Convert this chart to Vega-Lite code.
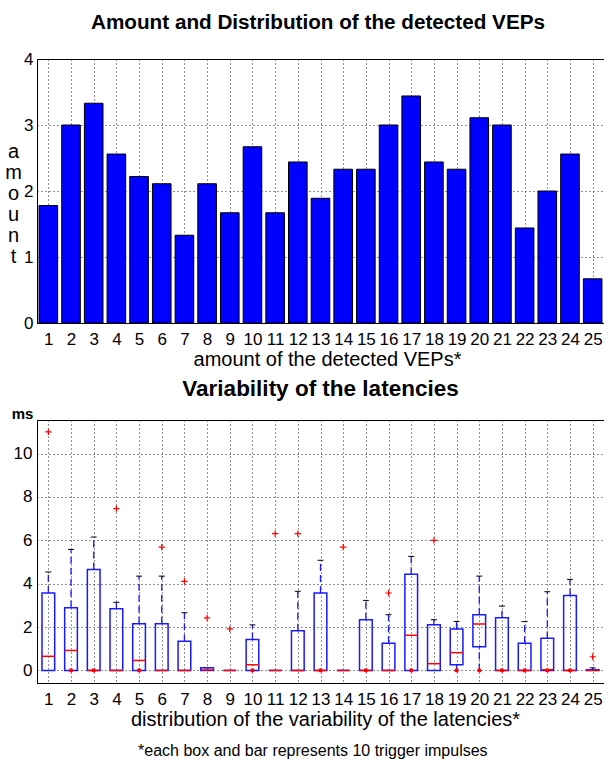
{
  "$schema": "https://vega.github.io/schema/vega-lite/v6.json",
  "padding": {"left": 4, "top": 11, "right": 0, "bottom": 2},
  "bounds": "flush",
  "spacing": 97,
  "config": {
    "font": "Liberation Sans",
    "view": {"stroke": "#000", "strokeWidth": 1},
    "scale": {"continuousPadding": 0},
    "axis": {
      "labelFont": "Liberation Sans", "labelFontSize": 17, "labelColor": "#000",
      "titleFont": "Liberation Sans", "titleFontSize": 20, "titleFontWeight": "normal", "titleColor": "#000",
      "domainColor": "#000", "gridColor": "#222", "gridDash": [1, 3], "gridOpacity": 1,
      "ticks": false, "tickSize": 0, "labelOverlap": false, "labelFlush": false
    },
    "title": {"font": "Liberation Sans", "fontSize": 21, "fontWeight": "bold", "color": "#000"}
  },
  "title": {"text": "*each box and bar represents 10 trigger impulses", "orient": "bottom", "fontSize": 16, "fontWeight": "normal", "offset": 13, "anchor": "middle", "dx": 8.5},
  "datasets": {
    "amounts": [
      {"n": 1, "amount": 1.78}, {"n": 2, "amount": 3.0}, {"n": 3, "amount": 3.33}, {"n": 4, "amount": 2.56}, {"n": 5, "amount": 2.22},
      {"n": 6, "amount": 2.11}, {"n": 7, "amount": 1.33}, {"n": 8, "amount": 2.11}, {"n": 9, "amount": 1.67}, {"n": 10, "amount": 2.67},
      {"n": 11, "amount": 1.67}, {"n": 12, "amount": 2.44}, {"n": 13, "amount": 1.89}, {"n": 14, "amount": 2.33}, {"n": 15, "amount": 2.33},
      {"n": 16, "amount": 3.0}, {"n": 17, "amount": 3.44}, {"n": 18, "amount": 2.44}, {"n": 19, "amount": 2.33}, {"n": 20, "amount": 3.11},
      {"n": 21, "amount": 3.0}, {"n": 22, "amount": 1.44}, {"n": 23, "amount": 2.0}, {"n": 24, "amount": 2.56}, {"n": 25, "amount": 0.67}
    ],
    "boxes": [
      {"n": 1, "q1": 0, "med": 0.65, "q3": 3.57, "wlo": 0, "whi": 4.54},
      {"n": 2, "q1": 0, "med": 0.92, "q3": 2.89, "wlo": 0, "whi": 5.58},
      {"n": 3, "q1": 0, "med": 0, "q3": 4.65, "wlo": 0, "whi": 6.15},
      {"n": 4, "q1": 0, "med": 0, "q3": 2.85, "wlo": 0, "whi": 3.14},
      {"n": 5, "q1": 0, "med": 0.46, "q3": 2.15, "wlo": 0, "whi": 4.35},
      {"n": 6, "q1": 0, "med": 0, "q3": 2.15, "wlo": 0, "whi": 4.35},
      {"n": 7, "q1": 0, "med": 0, "q3": 1.35, "wlo": 0, "whi": 2.66},
      {"n": 8, "q1": 0, "med": 0.02, "q3": 0.12, "wlo": 0, "whi": 0.12},
      {"n": 9, "q1": 0, "med": 0, "q3": 0, "wlo": 0, "whi": 0},
      {"n": 10, "q1": 0, "med": 0.26, "q3": 1.43, "wlo": 0, "whi": 2.1},
      {"n": 11, "q1": 0, "med": 0, "q3": 0, "wlo": 0, "whi": 0},
      {"n": 12, "q1": 0, "med": 0, "q3": 1.83, "wlo": 0, "whi": 3.65},
      {"n": 13, "q1": 0, "med": 0, "q3": 3.57, "wlo": 0, "whi": 5.08},
      {"n": 14, "q1": 0, "med": 0, "q3": 0, "wlo": 0, "whi": 0},
      {"n": 15, "q1": 0, "med": 0, "q3": 2.34, "wlo": 0, "whi": 3.23},
      {"n": 16, "q1": 0, "med": 0, "q3": 1.25, "wlo": 0, "whi": 2.57},
      {"n": 17, "q1": 0, "med": 1.62, "q3": 4.43, "wlo": 0, "whi": 5.26},
      {"n": 18, "q1": 0, "med": 0.31, "q3": 2.11, "wlo": 0, "whi": 2.34},
      {"n": 19, "q1": 0.26, "med": 0.82, "q3": 1.91, "wlo": 0, "whi": 2.26},
      {"n": 20, "q1": 1.09, "med": 2.14, "q3": 2.57, "wlo": 0, "whi": 4.35},
      {"n": 21, "q1": 0, "med": 0, "q3": 2.43, "wlo": 0, "whi": 2.97},
      {"n": 22, "q1": 0, "med": 0, "q3": 1.25, "wlo": 0, "whi": 2.25},
      {"n": 23, "q1": 0, "med": 0.03, "q3": 1.48, "wlo": 0, "whi": 3.63},
      {"n": 24, "q1": 0, "med": 0, "q3": 3.46, "wlo": 0, "whi": 4.2},
      {"n": 25, "q1": 0, "med": 0, "q3": 0.03, "wlo": 0, "whi": 0.12}
    ],
    "outliers": [
      {"n": 1, "v": 11.0}, {"n": 4, "v": 7.46}, {"n": 6, "v": 5.69}, {"n": 7, "v": 4.11}, {"n": 8, "v": 2.42},
      {"n": 9, "v": 1.92}, {"n": 11, "v": 6.31}, {"n": 12, "v": 6.31}, {"n": 14, "v": 5.69}, {"n": 16, "v": 3.57},
      {"n": 18, "v": 6.0}, {"n": 25, "v": 0.63}
    ],
    "zeros": [
      {"n": 2, "v": 0}, {"n": 3, "v": 0}, {"n": 5, "v": 0}, {"n": 10, "v": 0}, {"n": 13, "v": 0}, {"n": 15, "v": 0},
      {"n": 17, "v": 0}, {"n": 19, "v": 0}, {"n": 20, "v": 0}, {"n": 21, "v": 0}, {"n": 22, "v": 0}, {"n": 23, "v": 0}, {"n": 24, "v": 0}
    ]
  },
  "vconcat": [
    {
      "width": 567,
      "height": 264,
      "title": {"text": "Amount and Distribution of the detected VEPs", "offset": 16, "fontSize": 20.7, "dx": -2.5},
      "data": {"name": "amounts"},
      "mark": {"type": "bar", "width": 18.6, "color": "#0000ff", "stroke": "#000", "strokeWidth": 1},
      "encoding": {
        "x": {
          "field": "n", "type": "quantitative",
          "scale": {"domain": [0.5, 25.5], "nice": false, "zero": false, "padding": 0},
          "axis": {"values": [1,2,3,4,5,6,7,8,9,10,11,12,13,14,15,16,17,18,19,20,21,22,23,24,25], "format": "d", "grid": true,
                   "title": "amount of the detected VEPs*", "titleX": 290, "labelPadding": 8.5, "titlePadding": 2}
        },
        "y": {
          "field": "amount", "type": "quantitative",
          "scale": {"domain": [0, 4], "nice": false},
          "axis": {"values": [0, 1, 2, 3, 4], "grid": true, "labelPadding": 4,
                   "title": ["a", "m", "o", "u", "n", "t"], "titleAngle": 0, "titleX": -24, "titleY": 92,
                   "titleAlign": "center", "titleBaseline": "middle", "titleLineHeight": 21}
        }
      }
    },
    {
      "width": 567,
      "height": 263,
      "title": {"text": "Variability of the latencies", "offset": 6, "fontSize": 22.5, "dx": 0},
      "encoding": {
        "x": {
          "field": "n", "type": "quantitative",
          "scale": {"domain": [0.5, 25.5], "nice": false, "zero": false, "padding": 0},
          "axis": {"values": [1,2,3,4,5,6,7,8,9,10,11,12,13,14,15,16,17,18,19,20,21,22,23,24,25], "format": "d", "grid": true,
                   "title": "distribution of the variability of the latencies*", "titleX": 288, "labelPadding": 8.5, "titlePadding": 2}
        }
      },
      "layer": [
        {
          "data": {"name": "boxes"},
          "mark": {"type": "rule", "stroke": "#1a1aff", "strokeDash": [7, 4], "strokeWidth": 1.3},
          "encoding": {
            "y": {"field": "q3", "type": "quantitative", "title": "ms",
                  "scale": {"domain": [-0.58, 11.55], "nice": false, "zero": false, "padding": 0},
                  "axis": {"values": [0, 2, 4, 6, 8, 10], "grid": true, "labelPadding": 5,
                           "titleAngle": 0, "titleX": -15, "titleY": -7, "titleAlign": "center", "titleBaseline": "middle",
                           "titleFontWeight": "bold", "titleFontSize": 15}},
            "y2": {"field": "whi"}
          }
        },
        {
          "data": {"name": "boxes"},
          "mark": {"type": "rule", "stroke": "#1a1aff", "strokeDash": [7, 4], "strokeWidth": 1.3},
          "encoding": {
            "y": {"field": "wlo", "type": "quantitative", "title": "ms"},
            "y2": {"field": "q1"}
          }
        },
        {
          "data": {"name": "boxes"},
          "mark": {"type": "tick", "orient": "horizontal", "color": "#000", "size": 6, "thickness": 1, "opacity": 1},
          "encoding": {"y": {"field": "whi", "type": "quantitative", "title": "ms"}}
        },
        {
          "data": {"name": "boxes"},
          "mark": {"type": "bar", "width": 12.7, "filled": false, "color": "#1a1aff", "strokeWidth": 1.5},
          "encoding": {
            "y": {"field": "q3", "type": "quantitative", "title": "ms"},
            "y2": {"field": "q1"}
          }
        },
        {
          "data": {"name": "boxes"},
          "mark": {"type": "tick", "orient": "horizontal", "color": "#ff0000", "size": 12.7, "thickness": 1.5, "opacity": 1},
          "encoding": {"y": {"field": "med", "type": "quantitative", "title": "ms"}}
        },
        {
          "data": {"name": "outliers"},
          "mark": {"type": "point", "shape": "M-1,0H1M0,-1V1", "size": 40, "filled": false, "stroke": "#ff0000", "strokeWidth": 1.2, "opacity": 1},
          "encoding": {"y": {"field": "v", "type": "quantitative", "title": "ms"}}
        },
        {
          "data": {"name": "zeros"},
          "mark": {"type": "point", "shape": "circle", "size": 18, "filled": true, "color": "#ff0000", "opacity": 1},
          "encoding": {"y": {"field": "v", "type": "quantitative", "title": "ms"}}
        }
      ]
    }
  ]
}
